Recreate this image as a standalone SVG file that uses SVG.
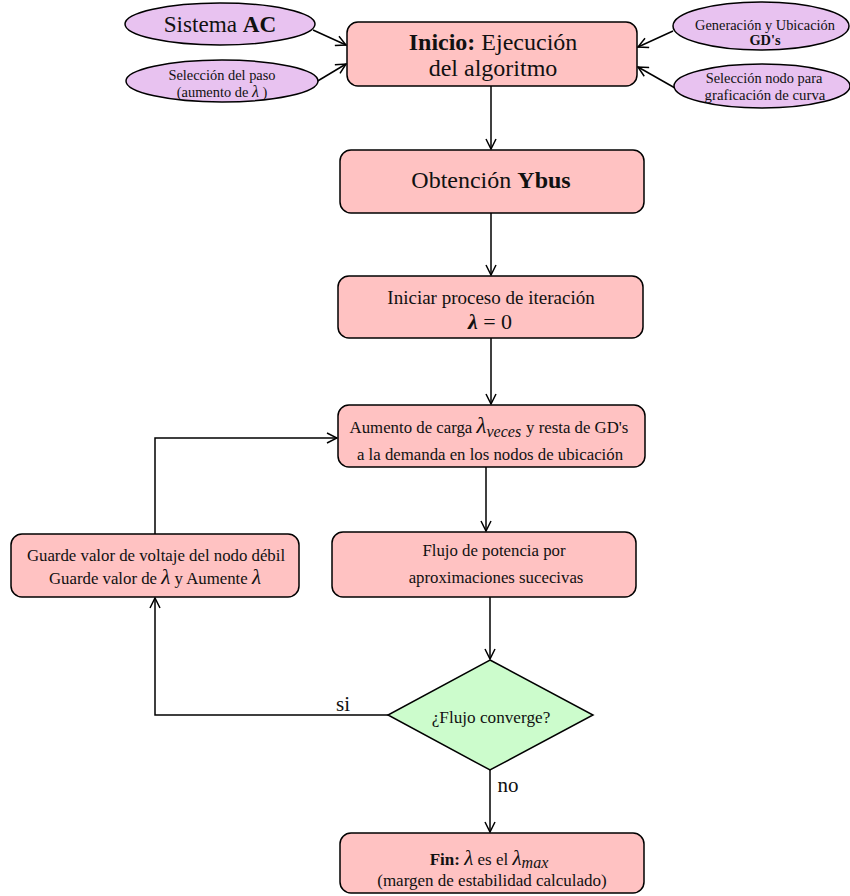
<svg xmlns="http://www.w3.org/2000/svg" width="850" height="896" viewBox="0 0 850 896">
<defs>
<style>
.box{fill:#ffc2c2;stroke:#000;stroke-width:1.5}
.ell{fill:#e8c2f0;stroke:#000;stroke-width:1.5}
.dia{fill:#ccfccc;stroke:#000;stroke-width:1.5}
.edge{fill:none;stroke:#000;stroke-width:1.5}
text{font-family:"Liberation Serif","DejaVu Serif",serif;fill:#111;text-anchor:middle}
.m{font-style:italic}
</style>
<marker id="arr" viewBox="0 0 12 12" refX="11" refY="6" markerWidth="12" markerHeight="12" markerUnits="userSpaceOnUse" orient="auto">
<path d="M1,1 L11,6 L1,11" fill="none" stroke="#000" stroke-width="1.5"/>
</marker>
</defs>
<rect width="850" height="896" fill="#fff"/>
<g id="connectors">
<line class="edge" x1="313" y1="30" x2="346" y2="45" marker-end="url(#arr)"/>
<line class="edge" x1="316" y1="82" x2="346" y2="64" marker-end="url(#arr)"/>
<line class="edge" x1="673" y1="31" x2="638" y2="47" marker-end="url(#arr)"/>
<line class="edge" x1="675" y1="88" x2="638" y2="67" marker-end="url(#arr)"/>
<line class="edge" x1="491" y1="86" x2="491" y2="149" marker-end="url(#arr)"/>
<line class="edge" x1="491" y1="213" x2="491" y2="275" marker-end="url(#arr)"/>
<line class="edge" x1="491" y1="338" x2="491" y2="404" marker-end="url(#arr)"/>
<line class="edge" x1="486" y1="467" x2="486" y2="531" marker-end="url(#arr)"/>
<line class="edge" x1="490" y1="597" x2="490" y2="659" marker-end="url(#arr)"/>
<polyline class="edge" points="388,715 155,715 155,598" marker-end="url(#arr)"/>
<polyline class="edge" points="155,534 155,438 337,438" marker-end="url(#arr)"/>
<line class="edge" x1="490" y1="770" x2="490" y2="832" marker-end="url(#arr)"/>
<text x="343" y="711" font-size="21">si</text>
<text x="508" y="792" font-size="21">no</text>
</g>
<g id="sistema-ac">
<ellipse class="ell" cx="220" cy="24" rx="95" ry="21"/>
<text x="220" y="32" font-size="23.2">Sistema <tspan font-weight="bold">AC</tspan></text>
</g>
<g id="seleccion-paso">
<ellipse class="ell" cx="222" cy="81" rx="96" ry="21"/>
<text x="222" y="80" font-size="14.4">Selección del paso</text>
<text x="222" y="97" font-size="14.4">(aumento de <tspan class="m" font-size="16">λ</tspan> )</text>
</g>
<g id="generacion-gd">
<ellipse class="ell" cx="761" cy="26" rx="88" ry="24"/>
<text x="765" y="30" font-size="14.4">Generación y Ubicación</text>
<text x="765" y="45" font-size="14.4" font-weight="bold">GD's</text>
</g>
<g id="seleccion-nodo">
<ellipse class="ell" cx="762" cy="86" rx="88" ry="22"/>
<text x="764" y="83" font-size="14.4">Selección nodo para</text>
<text x="765" y="100" font-size="14.8">graficación de curva</text>
</g>
<g id="inicio">
<rect class="box" x="347" y="22" width="290" height="64" rx="11"/>
<text x="493" y="50" font-size="24"><tspan font-weight="bold">Inicio:</tspan> Ejecución</text>
<text x="493" y="76" font-size="24">del algoritmo</text>
</g>
<g id="ybus">
<rect class="box" x="340" y="150" width="304" height="63" rx="11"/>
<text x="491" y="188" font-size="24">Obtención <tspan font-weight="bold">Ybus</tspan></text>
</g>
<g id="iniciar">
<rect class="box" x="338" y="276" width="305" height="62" rx="11"/>
<text x="491" y="304" font-size="19">Iniciar proceso de iteración</text>
<text x="490" y="329" font-size="22"><tspan class="m" font-weight="bold">λ</tspan> = 0</text>
</g>
<g id="aumento">
<rect class="box" x="338" y="405" width="307" height="62" rx="11"/>
<text x="489" y="433" font-size="16.8">Aumento de carga <tspan class="m" font-size="23">λ</tspan><tspan class="m" font-size="16" dy="4">veces</tspan><tspan dy="-4" dx="5">y resta de GD's</tspan></text>
<text x="490" y="460" font-size="16.8">a la demanda en los nodos de ubicación</text>
</g>
<g id="flujo">
<rect class="box" x="332" y="532" width="304" height="65" rx="11"/>
<text x="494" y="556" font-size="16.8">Flujo de potencia por</text>
<text x="496" y="583" font-size="16.8">aproximaciones sucecivas</text>
</g>
<g id="guarde">
<rect class="box" x="11" y="534" width="288" height="63" rx="11"/>
<text x="156" y="561" font-size="16.8">Guarde valor de voltaje del nodo débil</text>
<text x="155" y="584" font-size="16.8">Guarde valor de <tspan class="m" font-size="21">λ</tspan> y Aumente <tspan class="m" font-size="21">λ</tspan></text>
</g>
<g id="converge">
<polygon class="dia" points="490,660 593,715 490,770 388,715"/>
<text x="491" y="723" font-size="17.2">¿Flujo converge?</text>
</g>
<g id="fin">
<rect class="box" x="340" y="833" width="304" height="60" rx="11"/>
<text x="489" y="865" font-size="17"><tspan font-weight="bold">Fin:</tspan> <tspan class="m" font-size="21">λ</tspan> es el <tspan class="m" font-size="21">λ</tspan><tspan class="m" font-size="16" dy="3">max</tspan></text>
<text x="492" y="886" font-size="17">(margen de estabilidad calculado)</text>
</g>
</svg>
